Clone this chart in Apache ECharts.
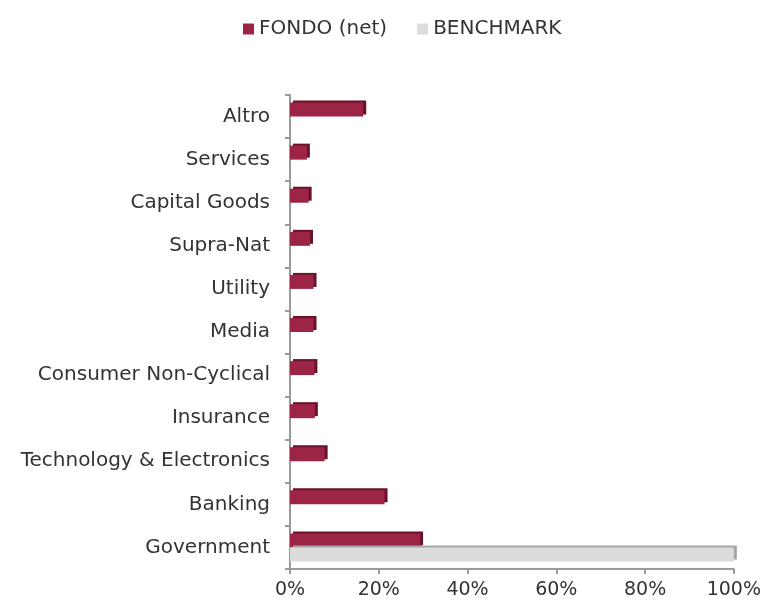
<!DOCTYPE html>
<html lang="it">
<head>
    <meta charset="UTF-8">
    <title>FONDO vs BENCHMARK</title>
    <script src="https://cdn.jsdelivr.net/npm/echarts@6/dist/echarts.min.js"></script>
    <style>
        html, body { margin: 0; padding: 0; background: #fff; }
    </style>
</head>
<body>
    <div id="main" style="width: 764px;height:601px;"></div>
    <script type="text/javascript">
        // settori, dall'alto verso il basso
        var sectors = ['Altro', 'Services', 'Capital Goods', 'Supra-Nat', 'Utility', 'Media',
            'Consumer Non-Cyclical', 'Insurance', 'Technology & Electronics', 'Banking', 'Government'];
        var fondo = [16.5, 3.8, 4.2, 4.5, 5.3, 5.3, 5.5, 5.6, 7.8, 21.3, 29.3];
        var benchmark = [0, 0, 0, 0, 0, 0, 0, 0, 0, 0, 100];
        var xTicks = [0, 20, 40, 60, 80, 100];

        var myChart = echarts.init(document.getElementById('main'));
        var font = 'DejaVu Sans';

        option = {
            textStyle: { fontFamily: font },
            legend: {
                top: 14,
                left: 238,
                itemWidth: 11,
                itemHeight: 11,
                itemGap: 30,
                itemTextGap: 5,
                icon: 'rect',
                textStyle: { fontSize: 20, color: '#333', fontFamily: font },
                data: ['FONDO (net)', 'BENCHMARK']
            },
            grid: {
                left: 290,
                right: 25,
                top: 95,
                bottom: 32
            },
            xAxis: {
                type: 'value',
                min: xTicks[0],
                max: xTicks[xTicks.length - 1],
                interval: 20,
                splitLine: { show: false },
                axisLine: { show: true, lineStyle: { color: '#9a9a9a', width: 2 } },
                axisTick: { show: true, length: 5, lineStyle: { color: '#9a9a9a', width: 2 } },
                axisLabel: {
                    fontSize: 19, color: '#333', margin: 12,
                    formatter: function (v) { return v + '%'; }
                }
            },
            yAxis: {
                type: 'category',
                inverse: true,
                data: sectors,
                axisLine: { show: true, lineStyle: { color: '#9a9a9a', width: 2 } },
                axisTick: { show: true, length: 5, lineStyle: { color: '#9a9a9a', width: 2 } },
                axisLabel: { fontSize: 20, color: '#333', margin: 20 }
            },
            series: [
                {
                    name: 'FONDO (net)',
                    type: 'bar',
                    data: fondo,
                    barWidth: 14,
                    barGap: '0%',
                    itemStyle: {
                        color: '#9c2444',
                        shadowColor: '#6b1129',
                        shadowOffsetX: 3,
                        shadowOffsetY: -2,
                        shadowBlur: 0
                    }
                },
                {
                    name: 'BENCHMARK',
                    type: 'bar',
                    data: benchmark,
                    barWidth: 14,
                    barGap: '0%',
                    itemStyle: {
                        color: '#dcdcdc',
                        shadowColor: '#a5a5a5',
                        shadowOffsetX: 3,
                        shadowOffsetY: -2,
                        shadowBlur: 0
                    }
                }
            ]
        };
        myChart.setOption(option);
    </script>
</body>
</html>
